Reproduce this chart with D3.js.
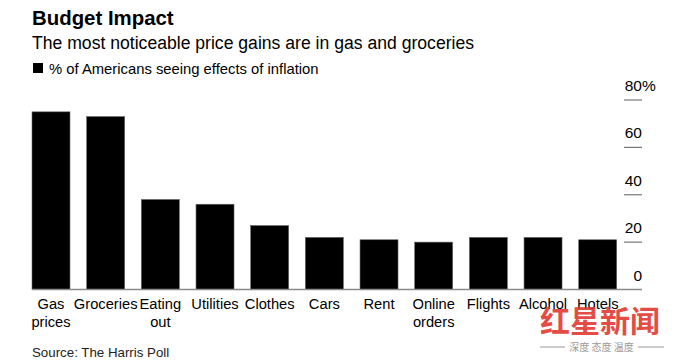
<!DOCTYPE html>
<html>
<head>
<meta charset="utf-8">
<script src="https://cdn.jsdelivr.net/npm/d3@7"></script>
<style>
  body { margin: 0; background: #fff; }
  svg { font-family: "Liberation Sans", Arial, sans-serif; }
</style>
</head>
<body>
<div id="chart"></div>
<script>
// categories (two-line labels split on \n)
var categories = ["Gas\nprices", "Groceries", "Eating\nout", "Utilities", "Clothes", "Cars",
                  "Rent", "Online\norders", "Flights", "Alcohol", "Hotels"];
// % of Americans seeing effects of inflation
var values = [75, 73, 38, 36, 27, 22, 21, 20, 22, 22, 21];
var yTicks = [0, 20, 40, 60, 80];

var width = 674, height = 363;

var svg = d3.select("#chart")
    .append("svg")
    .attr("width", width)
    .attr("height", height);

// header texts
svg.append("text")
    .attr("x", 32).attr("y", 25)
    .style("font-size", "20.4px")
    .style("font-weight", "bold")
    .text("Budget Impact");

svg.append("text")
    .attr("x", 32).attr("y", 49)
    .style("font-size", "17.6px")
    .text("The most noticeable price gains are in gas and groceries");

svg.append("rect")
    .attr("x", 33).attr("y", 63)
    .attr("width", 10).attr("height", 10)
    .attr("fill", "#000");

svg.append("text")
    .attr("x", 49).attr("y", 73.5)
    .style("font-size", "14.8px")
    .text("% of Americans seeing effects of inflation");

// scales
var x = d3.scaleBand()
    .domain(categories)
    .range([32, 616.7])
    .paddingInner(0.305)
    .paddingOuter(0);

var y = d3.scaleLinear()
    .domain([0, 80])
    .range([289.5, 100]);

// bars
svg.selectAll("rect.bar")
    .data(values)
    .enter()
    .append("rect")
    .attr("class", "bar")
    .attr("x", function(d, i) { return x(categories[i]); })
    .attr("y", function(d) { return y(d); })
    .attr("width", x.bandwidth())
    .attr("height", function(d) { return y(0) - y(d); })
    .attr("fill", "#000")
    .attr("stroke", "#666")
    .attr("stroke-width", 0.6);

// baseline
svg.append("line")
    .attr("x1", 32).attr("x2", 642)
    .attr("y1", y(0)).attr("y2", y(0))
    .attr("stroke", "#8a8a8a")
    .attr("stroke-width", 1.5);

// right axis: short tick dashes with labels sitting above them
var yAxis = svg.append("g");
yAxis.selectAll("line")
    .data(yTicks.filter(function(d) { return d > 0; }))
    .enter()
    .append("line")
    .attr("x1", 624).attr("x2", 642)
    .attr("y1", function(d) { return y(d); })
    .attr("y2", function(d) { return y(d); })
    .attr("stroke", "#777")
    .attr("stroke-width", 1.2);

yAxis.selectAll("text")
    .data(yTicks)
    .enter()
    .append("text")
    .attr("x", 642)
    .attr("y", function(d) { return y(d) - 9; })
    .attr("text-anchor", "end")
    .style("font-size", "15.5px")
    .text(function(d) { return d; });

yAxis.append("text")
    .attr("x", 642)
    .attr("y", y(80) - 9)
    .style("font-size", "15.5px")
    .text("%");

// category labels
var labels = svg.selectAll("text.cat")
    .data(categories)
    .enter()
    .append("text")
    .attr("class", "cat")
    .attr("text-anchor", "middle")
    .style("font-size", "14.7px")
    .attr("transform", function(d) {
        return "translate(" + (x(d) + x.bandwidth() / 2) + ",309)";
    });

labels.selectAll("tspan")
    .data(function(d) { return d.split("\n"); })
    .enter()
    .append("tspan")
    .attr("x", 0)
    .attr("dy", function(d, i) { return i === 0 ? 0 : 17.5; })
    .text(function(d) { return d; });

// source
svg.append("text")
    .attr("x", 32).attr("y", 356.5)
    .style("font-size", "13.3px")
    .attr("fill", "#222")
    .text("Source: The Harris Poll");

// watermark
svg.append("text")
    .attr("x", 540).attr("y", 332)
    .style("font-family", "'Noto Sans CJK SC', sans-serif")
    .style("font-size", "30px")
    .style("font-weight", "bold")
    .attr("fill", "#e23a33")
    .attr("opacity", 0.9)
    .text("红星新闻");

svg.append("line")
    .attr("x1", 540).attr("x2", 565)
    .attr("y1", 347).attr("y2", 347)
    .attr("stroke", "#999");
svg.append("line")
    .attr("x1", 638).attr("x2", 664)
    .attr("y1", 347).attr("y2", 347)
    .attr("stroke", "#999");
svg.append("text")
    .attr("x", 601.5).attr("y", 351)
    .attr("text-anchor", "middle")
    .style("font-family", "'Noto Sans CJK SC', sans-serif")
    .style("font-size", "10px")
    .attr("fill", "#999")
    .text("深度 态度 温度");
</script>
</body>
</html>
